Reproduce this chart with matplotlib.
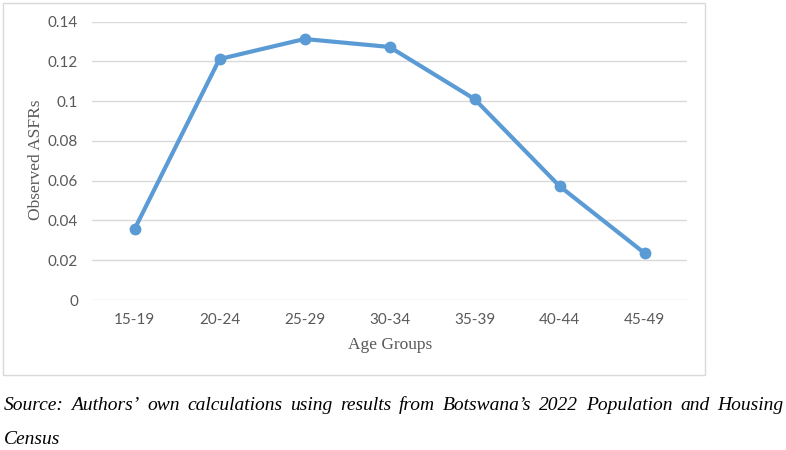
import numpy as np
import matplotlib
matplotlib.use('Agg')
import matplotlib.pyplot as plt
from matplotlib.patches import Rectangle

# data
age_groups = ['15-19', '20-24', '25-29', '30-34', '35-39', '40-44', '45-49']
asfr = [0.0356, 0.1212, 0.1313, 0.1273, 0.1011, 0.0573, 0.0236]
yticks = [0, 0.02, 0.04, 0.06, 0.08, 0.1, 0.12, 0.14]
ytick_labels = ['0', '0.02', '0.04', '0.06', '0.08', '0.1', '0.12', '0.14']

caption1 = "Source: Authors’ own calculations using results from Botswana’s 2022 Population and Housing"
caption2 = "Census"

W, H = 786, 450
fig = plt.figure(figsize=(W/100, H/100), dpi=100)
fig.patch.set_facecolor('white')

# outer chart frame
fig.patches.append(Rectangle((3/W, 1-375/H), 702/W, 372/H, transform=fig.transFigure,
                             fill=False, edgecolor='#D9D9D9', linewidth=1.0))

ax = fig.add_axes([92/W, 1-300/H, 595/W, 278.3/H])
x = np.arange(len(age_groups))
ax.plot(x, asfr, color='#5B9BD5', linewidth=3.0, marker='o', markersize=7.5,
        solid_capstyle='round', solid_joinstyle='round', zorder=3)
ax.set_xlim(-0.5, len(age_groups)-0.5)
ax.set_ylim(0, 0.14)
ax.set_yticks(yticks)
ax.set_yticklabels(ytick_labels)
ax.set_xticks(x)
ax.set_xticklabels(age_groups)
ax.grid(axis='y', color='#D9D9D9', linewidth=1.0)
ax.set_axisbelow(True)
for s in ax.spines.values():
    s.set_visible(False)
ax.tick_params(length=0, colors='#595959', labelsize=11)
ax.tick_params(axis='y', pad=10)
ax.tick_params(axis='x', pad=9)
for lab in ax.get_xticklabels() + ax.get_yticklabels():
    lab.set_family('Lato')

fig.text(390/W, 1-345/H, 'Age Groups', ha='center', va='center', family='Liberation Serif',
         fontsize=12.5, color='#595959')
fig.text(36/W, 1-160/H, 'Observed ASFRs', ha='center', va='center', rotation=90,
         family='Liberation Serif', fontsize=12.5, color='#595959')

# justified caption, first line
renderer = fig.canvas.get_renderer()
words = caption1.split(' ')
left, right = 4, 783
ypos = 1-405/H
objs = [fig.text(0, ypos, w, family='Liberation Serif', style='italic', fontsize=14,
                 va='center', ha='left') for w in words]
widths = [o.get_window_extent(renderer).width for o in objs]
gap = (right-left-sum(widths))/(len(words)-1)
cur = left
for o, w in zip(objs, widths):
    o.set_x(cur/W)
    cur += w + gap
fig.text(left/W, 1-440/H, caption2, family='Liberation Serif', style='italic', fontsize=14,
         va='center', ha='left')

fig.savefig('out.png', dpi=100)
